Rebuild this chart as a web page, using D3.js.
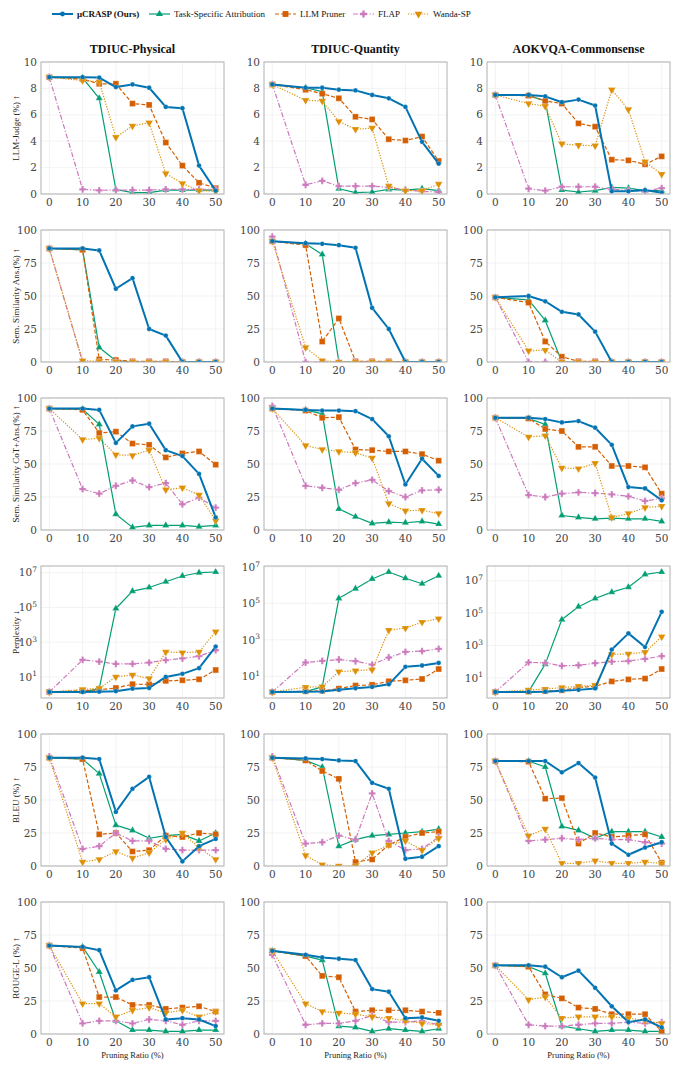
<!DOCTYPE html>
<html>
<head>
<meta charset="utf-8">
<script src="https://cdn.jsdelivr.net/npm/d3@7"></script>
<style>
body { margin: 0; background: #fff; }
</style>
</head>
<body>
<div id="div1"></div>
<script>

// figure size
var svg_width = 677
var svg_height = 1066

var ratios = [0, 10, 15, 20, 25, 30, 35, 40, 45, 50]
var x_ticks = [0, 10, 20, 30, 40, 50]
var methods = ["\u03bcCRASP (Ours)", "Task-Specific Attribution", "LLM Pruner", "FLAP", "Wanda-SP"]
var datasets = ["TDIUC-Physical", "TDIUC-Quantity", "AOKVQA-Commonsense"]
var metric_labels = ["LLM-Judge (%) \u2191", "Sem. Similarity Ans.(%) \u2191", "Sem. Similarity CoT+Ans.(%) \u2191",
  "Perplexity \u2193", "BLEU (%) \u2191", "ROUGE-L (%) \u2191"]
var metric_ticks = [[0, 2, 4, 6, 8, 10], [0, 25, 50, 75, 100], [0, 25, 50, 75, 100], [10, 1e3, 1e5, 1e7],
  [0, 25, 50, 75, 100], [0, 25, 50, 75, 100]]

// each panel: 5 series in the order of methods
var judge_phys = [
  [8.85, 8.85, 8.82, 8.1, 8.3, 8.05, 6.6, 6.5, 2.15, 0.25],
  [8.85, 8.8, 7.25, 0.35, 0.1, 0.1, 0.3, 0.3, 0.3, 0.3],
  [8.85, 8.7, 8.35, 8.35, 6.85, 6.75, 3.9, 2.15, 0.85, 0.45],
  [8.85, 0.35, 0.28, 0.3, 0.3, 0.3, 0.35, 0.35, 0.35, 0.35],
  [8.85, 8.6, 8.5, 4.3, 5.15, 5.4, 1.55, 0.8, 0.25, 0.2]]
var judge_quant = [
  [8.3, 8.05, 8.05, 7.9, 7.85, 7.5, 7.25, 6.6, 3.95, 2.3],
  [8.3, 8.05, 7.75, 0.4, 0.1, 0.15, 0.35, 0.3, 0.4, 0.25],
  [8.3, 7.9, 7.6, 7.25, 5.85, 5.65, 4.15, 4.05, 4.35, 2.5],
  [8.3, 0.7, 1.0, 0.6, 0.6, 0.6, 0.5, 0.3, 0.2, 0.15],
  [8.3, 7.1, 7.05, 5.5, 4.9, 5.0, 0.6, 0.25, 0.25, 0.75]]
var judge_aok = [
  [7.5, 7.5, 7.4, 6.95, 7.15, 6.7, 0.2, 0.2, 0.3, 0.1],
  [7.5, 7.45, 7.05, 0.3, 0.15, 0.25, 0.5, 0.45, 0.25, 0.25],
  [7.5, 7.45, 7.05, 6.85, 5.35, 5.1, 2.6, 2.55, 2.25, 2.85],
  [7.5, 0.4, 0.25, 0.55, 0.55, 0.55, 0.35, 0.3, 0.2, 0.45],
  [7.5, 6.85, 6.65, 3.8, 3.7, 3.65, 7.9, 6.4, 2.45, 1.5]]

var ans_phys = [
  [86, 86, 84.5, 55.5, 63.5, 25, 20, 0, 0, 0],
  [86, 85, 11, 1, 0, 0, 0, 0, 0, 0],
  [86, 85, 2, 1.5, 0.5, 0.5, 0.5, 0, 0, 0],
  [86, 0, 0, 0, 0, 0, 0, 0, 0, 0],
  [86, 1, 0.5, 0, 0, 0, 0, 0, 0, 0]]
var ans_quant = [
  [91.5, 90, 89.5, 88.5, 86.5, 41, 25, 0, 0, 0],
  [91.5, 89.5, 81.5, 0, 0, 0, 0, 0, 0, 0],
  [91.5, 88.5, 15.5, 33, 0.5, 0.5, 0.5, 0, 0, 0],
  [95, 0, 0, 0, 0, 0, 0, 0, 0, 0],
  [91.5, 11, 1, 0, 0, 0, 0, 0, 0, 0]]
var ans_aok = [
  [49, 50, 46, 38, 36, 23, 0, 0, 0, 0],
  [49, 47, 31.5, 0, 0, 0, 0, 0, 0, 0],
  [49, 45, 15.5, 4, 0.5, 0.5, 0, 0, 0, 0],
  [49, 0, 0, 0, 0, 0, 0, 0, 0, 0],
  [49, 8.5, 9, 0, 0, 0, 0, 0, 0, 0]]

var cot_phys = [
  [92, 92, 91, 66, 78.5, 80.5, 60.5, 56, 42.5, 9.5],
  [92, 91.5, 80, 12, 2, 3.5, 3.5, 3.5, 2.5, 3.5],
  [92, 91, 73.5, 74.5, 65.5, 64.5, 55, 58, 59.5, 49.5],
  [92, 31, 27.5, 33.5, 37.5, 32.5, 35.5, 19.5, 24.5, 17],
  [92, 68.5, 69.5, 57, 56.5, 60.5, 30.5, 32, 26.5, 7]]
var cot_quant = [
  [92, 91, 90.5, 90.5, 90, 84, 71, 34.5, 54, 41],
  [92, 91, 88, 16, 10, 5, 6, 5.5, 6.5, 4.5],
  [92, 90.5, 85, 85.5, 61, 60.5, 59.5, 59.5, 57.5, 52.5],
  [94, 33.5, 32, 30.5, 35.5, 38, 29.5, 25, 30, 30.5],
  [92, 64, 61, 59.5, 58.5, 54.5, 20, 14.5, 15, 12.5]]
var cot_aok = [
  [85, 85, 84, 81.5, 82.5, 77.5, 64.5, 32.5, 31.5, 22.5],
  [85, 84.5, 80, 11, 9.5, 8.5, 9, 8.5, 8.5, 6.5],
  [85, 84.5, 76.5, 75, 63, 63, 48.5, 48.5, 47.5, 27.5],
  [85, 26.5, 25, 27.5, 28.5, 28, 27, 25.5, 22, 24],
  [85, 70.5, 71.5, 47, 46.5, 50.5, 9.5, 12.5, 17, 18]]

var ppl_phys = [
  [1.35, 1.35, 1.4, 1.5, 2.1, 2.3, 10, 15, 32, 560],
  [1.35, 1.35, 2.1, 8.7e4, 8.7e5, 1.4e6, 3e6, 6.5e6, 1e7, 1.1e7],
  [1.35, 1.6, 1.8, 2.3, 3.8, 3.7, 5.9, 6.4, 7.3, 25],
  [1.35, 95, 76, 56, 56, 67, 92, 115, 155, 345],
  [1.35, 1.9, 2.2, 10, 13, 8, 275, 250, 275, 4000]]
var ppl_quant = [
  [1.37, 1.4, 1.45, 1.8, 2.2, 2.6, 3.6, 33, 39, 54],
  [1.37, 1.45, 2.6, 1.9e5, 6.4e5, 2.2e6, 5.3e6, 2.4e6, 1.2e6, 3.3e6],
  [1.37, 1.5, 1.6, 2.1, 3.1, 3.4, 5.3, 6, 7.1, 25],
  [1.37, 57, 70, 83, 67, 44, 107, 220, 240, 320],
  [1.37, 2.5, 2.7, 18, 20, 23, 3400, 4400, 9400, 14500]]
var ppl_aok = [
  [1.33, 1.35, 1.4, 1.6, 1.8, 2.2, 560, 5600, 800, 1.2e5],
  [1.33, 1.4, 70, 4e4, 2.5e5, 8e5, 2e6, 4e6, 2.5e7, 3.5e7],
  [1.33, 1.4, 1.5, 1.7, 2.5, 3, 6, 8, 9, 35],
  [1.33, 90, 85, 55, 60, 80, 100, 110, 150, 220],
  [1.33, 1.8, 2.0, 2.5, 3, 3.5, 280, 300, 380, 3500]]

var bleu_phys = [
  [82, 82, 81, 41, 58.5, 67.5, 22, 3.5, 15, 20.5],
  [82, 81, 70, 31, 27, 21, 23, 24, 19, 25],
  [82, 81, 24, 25, 11, 12, 23, 22, 25, 24],
  [83, 13, 15, 25, 19, 19, 13, 12, 12, 12],
  [82, 3, 5, 11, 6, 10, 20, 25, 14, 5]]
var bleu_quant = [
  [82, 81.5, 81, 80, 79.5, 63, 58.5, 5.5, 7, 15],
  [82, 80, 75, 15, 20, 23, 24, 25, 26, 28],
  [82, 80, 72, 66, 3, 5, 16, 22, 25, 26],
  [83, 17, 18, 23, 20, 55, 19, 12, 13, 22],
  [82, 8, 1, 0, 0, 10, 16, 19, 12, 21]]
var bleu_aok = [
  [79.5, 79.5, 79.5, 71, 78, 67, 17, 8.5, 14, 18],
  [79.5, 79.5, 75, 30, 27, 21, 26, 26, 26, 22],
  [79.5, 79, 51, 51.5, 17, 25, 22, 23, 24, 2.5],
  [79.5, 19, 20, 21, 20, 21, 20, 20, 18, 17],
  [79.5, 23, 28, 2, 2, 4, 2, 2, 3, 2]]

var rouge_phys = [
  [67, 66, 63.5, 33, 41, 43, 11, 12, 11, 6],
  [67, 66, 47, 10, 3, 3, 2, 2, 3, 3],
  [67, 65, 28, 28, 22, 22, 19, 20, 21, 17],
  [67, 8, 10, 10, 8, 11, 10, 7, 10, 10],
  [67, 23, 23, 13, 18, 20, 16, 18, 13, 17]]
var rouge_quant = [
  [63, 60, 58, 57, 56, 34, 32, 12, 12.5, 10],
  [63, 59, 56, 6, 5, 2, 4, 3, 2, 4],
  [63, 59, 44, 43, 17, 18, 18, 18, 17, 16],
  [60, 7, 8, 8, 10, 14, 9, 9, 10, 7],
  [63, 23, 17, 16, 15, 13, 12, 10, 8, 7]]
var rouge_aok = [
  [52, 52, 51, 43, 48, 35, 21, 9, 11, 5],
  [52, 51, 46, 6, 4, 2, 3, 3, 2, 2],
  [52, 51, 30, 27, 20, 19, 15, 15, 15, 2],
  [52, 7, 6, 6, 7, 8, 8, 9, 8, 9],
  [52, 26, 28, 12, 13, 13, 13, 12, 10, 8]]

var panels = [
  [judge_phys, judge_quant, judge_aok],
  [ans_phys, ans_quant, ans_aok],
  [cot_phys, cot_quant, cot_aok],
  [ppl_phys, ppl_quant, ppl_aok],
  [bleu_phys, bleu_quant, bleu_aok],
  [rouge_phys, rouge_quant, rouge_aok]]

// styles
var colors = ["#0173B2", "#029E73", "#D55E00", "#CC78BC", "#DE8F05"]
var dashes = [null, null, "4,2", "5,1.8,1.2,1.8", "1.2,1.5"]
var line_widths = [2, 1.2, 1.2, 1.2, 1.2]
var symbols = [d3.symbolCircle, d3.symbolTriangle, d3.symbolSquare, d3.symbolCross, d3.symbolTriangle]
var symbol_sizes = [18, 22, 34, 26, 26]
var symbol_rot = [0, 0, 0, 0, 180]
var draw_order = [1, 2, 3, 4, 0]

var col_x = [41, 264, 487]
var row_y = [62, 230, 398, 566, 734, 902]
var panel_w = 183
var panel_h = 132
var serif = "'DejaVu Serif', serif"
var roman = "'Liberation Serif', 'Times New Roman', serif"

var svg = d3.select("#div1").append("svg")
  .attr("width", svg_width)
  .attr("height", svg_height)

var x = d3.scaleLinear().domain([-2.5, 52.5]).range([0, panel_w])

var marker_path = function(i) {
  return d3.symbol().type(symbols[i]).size(symbol_sizes[i])()
}

var draw_panel = function(r, c) {
  var series = panels[r][c]
  var g = svg.append("g")
    .attr("transform", "translate(" + col_x[c] + "," + row_y[r] + ")")
  var y
  var is_log = (r == 3)
  if (is_log) {
    var all = d3.merge(series)
    var lo = Math.log10(d3.min(all)), hi = Math.log10(d3.max(all))
    var pad = (hi - lo) * 0.05
    y = d3.scaleLog().domain([Math.pow(10, lo - pad), Math.pow(10, hi + pad)]).range([panel_h, 0])
  } else {
    var tk = metric_ticks[r]
    y = d3.scaleLinear().domain([0, tk[tk.length - 1]]).range([panel_h, 0])
  }
  var yticks = metric_ticks[r].filter(function(t) {
    return t >= y.domain()[0] && t <= y.domain()[1] * 1.0001
  })

  var clip_id = "clip" + r + "_" + c
  g.append("clipPath").attr("id", clip_id)
    .append("rect").attr("width", panel_w).attr("height", panel_h)

  // grid
  g.selectAll(".gx").data(x_ticks).enter().append("line")
    .attr("x1", function(d) { return x(d) }).attr("x2", function(d) { return x(d) })
    .attr("y1", 0).attr("y2", panel_h)
    .style("stroke", "#f0f0f0").style("stroke-width", 0.8)
  g.selectAll(".gy").data(yticks).enter().append("line")
    .attr("y1", function(d) { return y(d) }).attr("y2", function(d) { return y(d) })
    .attr("x1", 0).attr("x2", panel_w)
    .style("stroke", "#f0f0f0").style("stroke-width", 0.8)

  var plot = g.append("g").attr("clip-path", "url(#" + clip_id + ")")

  draw_order.forEach(function(m) {
    var pts = ratios.map(function(rt, i) { return [rt, series[m][i]] })
    var line = d3.line().x(function(d) { return x(d[0]) }).y(function(d) { return y(d[1]) })
    plot.append("path")
      .attr("d", line(pts))
      .style("fill", "none")
      .style("stroke", colors[m])
      .style("stroke-width", line_widths[m])
      .style("stroke-dasharray", dashes[m])
      .style("stroke-linejoin", "round")
    plot.selectAll(".m" + m).data(pts).enter().append("path")
      .attr("d", marker_path(m))
      .attr("transform", function(d) {
        return "translate(" + x(d[0]) + "," + y(d[1]) + ") rotate(" + symbol_rot[m] + ")"
      })
      .style("fill", colors[m])
      .style("stroke", "#fff")
      .style("stroke-opacity", 0.5)
      .style("stroke-width", 0.5)
  })

  // frame
  g.append("rect")
    .attr("width", panel_w).attr("height", panel_h)
    .style("fill", "none").style("stroke", "#b0b0b0").style("stroke-width", 1)

  // x tick labels
  g.selectAll(".xt").data(x_ticks).enter().append("text")
    .text(function(d) { return d })
    .attr("x", function(d) { return x(d) })
    .attr("y", panel_h + 4)
    .attr("dy", "0.75em")
    .attr("text-anchor", "middle")
    .style("font-family", serif).style("font-size", "10.5px").style("fill", "#444")

  // y tick labels
  var yt = g.selectAll(".yt").data(yticks).enter().append("text")
    .attr("x", -4)
    .attr("y", function(d) { return y(d) })
    .attr("dy", "0.35em")
    .attr("text-anchor", "end")
    .style("font-family", serif).style("font-size", "10.5px").style("fill", "#444")
  if (is_log) {
    yt.text("10")
    yt.append("tspan")
      .text(function(d) { return Math.round(Math.log10(d)) })
      .attr("dy", "-0.55em")
      .style("font-size", "7.5px")
  } else {
    yt.text(function(d) { return d })
  }

  if (c == 0) {
    svg.append("text")
      .text(metric_labels[r])
      .attr("transform", "translate(19," + (row_y[r] + panel_h / 2) + ") rotate(-90)")
      .attr("text-anchor", "middle")
      .style("font-family", roman).style("font-size", "9px").style("fill", "#222")
  }
  if (r == 0) {
    svg.append("text")
      .text(datasets[c])
      .attr("x", col_x[c] + panel_w / 2)
      .attr("y", row_y[0] - 9)
      .attr("text-anchor", "middle")
      .style("font-family", roman).style("font-weight", "bold").style("font-size", "12px").style("fill", "#111")
  }
  if (r == 5) {
    svg.append("text")
      .text("Pruning Ratio (%)")
      .attr("x", col_x[c] + panel_w / 2)
      .attr("y", row_y[5] + panel_h + 24)
      .attr("text-anchor", "middle")
      .style("font-family", roman).style("font-size", "8.5px").style("fill", "#222")
  }
}

for (var r = 0; r < 6; r++) {
  for (var c = 0; c < 3; c++) {
    draw_panel(r, c)
  }
}

// legend
var legend_x = [52, 149, 275, 353, 408]
var legend = svg.append("g").attr("transform", "translate(0,14)")
methods.forEach(function(name, m) {
  var lg = legend.append("g").attr("transform", "translate(" + legend_x[m] + ",0)")
  lg.append("line")
    .attr("x1", 0).attr("x2", 21).attr("y1", 0).attr("y2", 0)
    .style("stroke", colors[m])
    .style("stroke-width", line_widths[m])
    .style("stroke-dasharray", dashes[m])
  lg.append("path")
    .attr("d", marker_path(m))
    .attr("transform", "translate(10.5,0) rotate(" + symbol_rot[m] + ")")
    .style("fill", colors[m])
  lg.append("text")
    .text(name)
    .attr("x", 25)
    .attr("dy", "0.35em")
    .style("font-family", roman)
    .style("font-size", "9px")
    .style("font-weight", m == 0 ? "bold" : "normal")
    .style("fill", "#111")
})

</script>
</body>
</html>
